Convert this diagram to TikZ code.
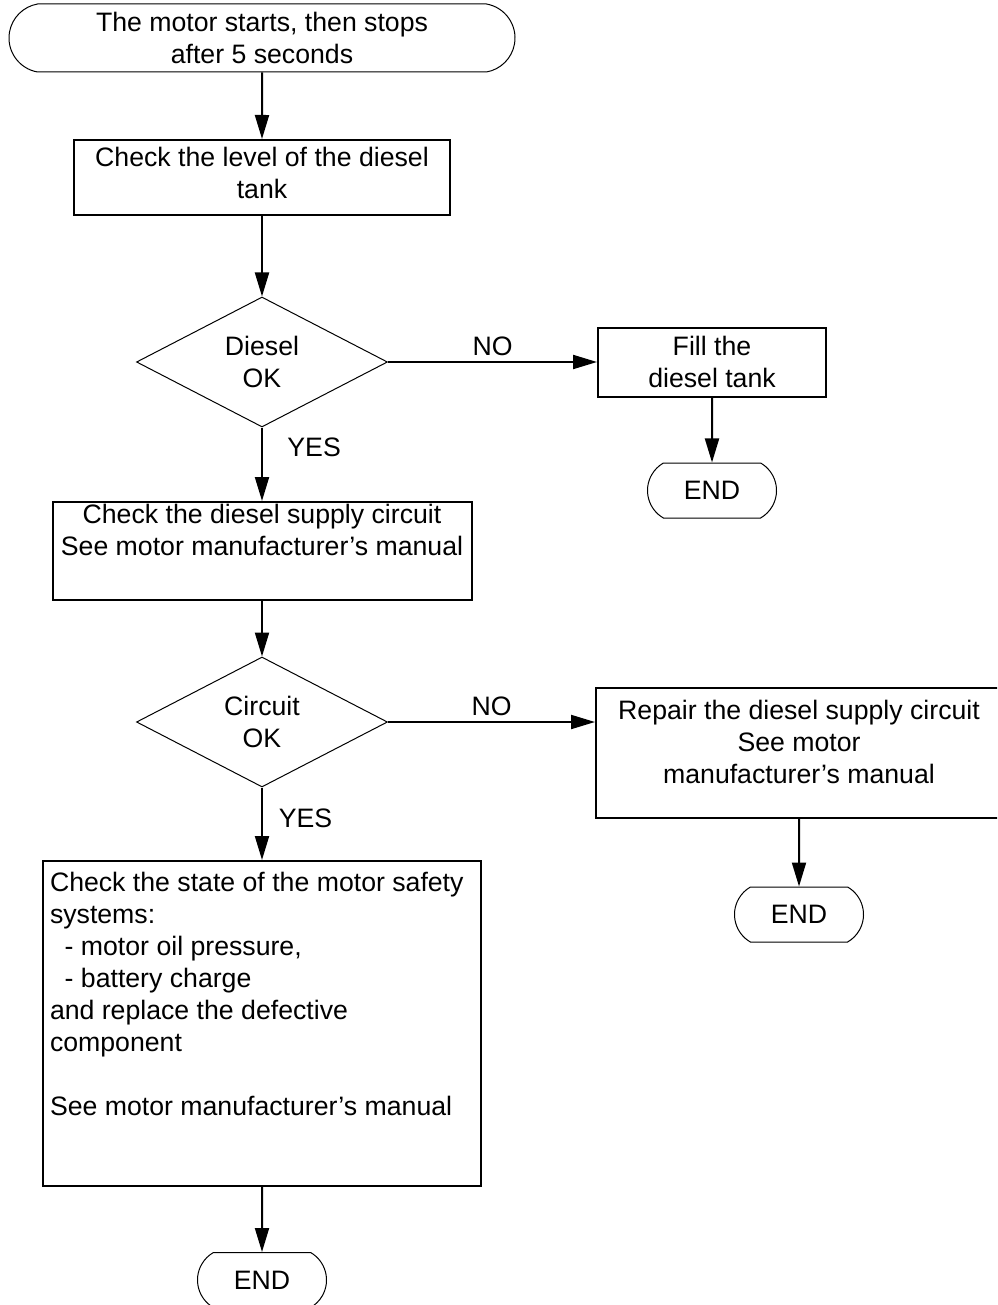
\documentclass[tikz,border=0pt]{standalone}
\usepackage{fontspec}
\setmainfont{Liberation Sans}
\usepackage{tikz}
\usetikzlibrary{shapes.geometric,shapes.misc,arrows.meta}

\tikzset{
  terminal/.style={draw, line width=0.75pt, rounded rectangle, rounded rectangle arc length=120,
    minimum width=96.75pt, minimum height=41.25pt, inner sep=0pt, align=center},
  stepbox/.style={draw, line width=1.5pt, rectangle, inner sep=0pt, align=center},
  decision/.style={draw, line width=0.75pt, diamond, minimum width=188.25pt, minimum height=97.5pt,
    inner sep=0pt, align=center},
  flow/.style={line width=1.5pt, -{Triangle[length=18pt,width=10.5pt]}}
}

\begin{document}
\begin{tikzpicture}[x=0.75pt, y=-0.75pt, font=\fontsize{20}{24}\selectfont]
\useasboundingbox (0,0) rectangle (997,1305);
\clip (0,0) rectangle (997,1305);
\node[terminal, minimum width=379.5pt, minimum height=51pt, rounded rectangle arc length=160] (start) at (262,38) {The motor starts, then stops\\after 5 seconds};
\node[stepbox, minimum width=282pt, minimum height=56.25pt] (level) at (262,177.5) {Check the level of the diesel\\tank\rule[-7.5pt]{0pt}{0pt}};
\node[decision] (dieselok) at (262,362) {Diesel\\OK};
\node[stepbox, minimum width=171pt, minimum height=51.75pt] (fill) at (712,362) {Fill the\\diesel tank};
\node[terminal] (end1) at (712,490.5) {END};
\node[stepbox, minimum width=314.25pt, minimum height=73.5pt] (supply) at (262,551) {Check the diesel supply circuit\\See motor manufacturer's manual\\\strut};
\node[decision] (circuitok) at (262,722) {Circuit\\OK};
\node[stepbox, minimum width=304.5pt, minimum height=97.5pt] (repair) at (799,753) {Repair the diesel supply circuit\\See motor\\manufacturer's manual\rule[-16.5pt]{0pt}{0pt}};
\node[terminal] (end2) at (799,914.5) {END};
\node[stepbox, minimum width=328.5pt, minimum height=243.75pt, text width=318pt, inner xsep=5pt, align=flush left] (safety) at (262,1023.5) {Check the state of the motor safety\\systems:\\\hspace*{11pt}- motor oil pressure,\\\hspace*{11pt}- battery charge\\and replace the defective\\component\\\strut\\See motor manufacturer's manual\rule[-44.5pt]{0pt}{0pt}};
\node[terminal] (end3) at (262,1280) {END};

\draw[flow] (start) -- (level);
\draw[flow] (level) -- (dieselok);
\draw[flow] (dieselok) -- node[above, inner sep=4pt] {NO} (fill);
\draw[flow] (fill) -- (end1);
\draw[flow] (dieselok) -- node[pos=0.27, right=15pt] {YES} (supply);
\draw[flow] (supply) -- (circuitok);
\draw[flow] (circuitok.east) -- node[above, inner sep=4pt] {NO} (circuitok.east -| repair.west);
\draw[flow] (repair) -- (end2);
\draw[flow] (circuitok) -- node[pos=0.43, right=8.5pt] {YES} (safety);
\draw[flow] (safety) -- (end3);
\end{tikzpicture}
\end{document}
